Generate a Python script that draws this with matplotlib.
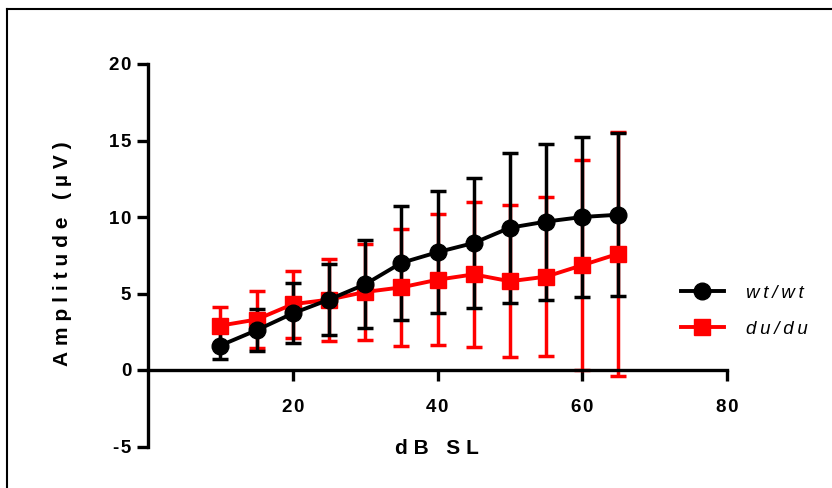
import matplotlib
matplotlib.use('Agg')
import matplotlib.pyplot as plt
from matplotlib.lines import Line2D

plt.rcParams['font.family'] = ['Liberation Sans', 'DejaVu Sans']

# data (mean +/- SD)
db_sl = [10, 15, 20, 25, 30, 35, 40, 45, 50, 55, 60, 65]
wt_mean = [1.6, 2.6, 3.7, 4.6, 5.6, 7.0, 7.7, 8.3, 9.3, 9.7, 10.0, 10.15]
wt_sd = [0.86, 1.38, 1.96, 2.3, 2.87, 3.72, 4.0, 4.28, 4.9, 5.1, 5.26, 5.33]
du_mean = [2.9, 3.3, 4.3, 4.6, 5.1, 5.4, 5.9, 6.25, 5.8, 6.1, 6.85, 7.6]
du_sd = [1.2, 1.88, 2.2, 2.68, 3.12, 3.8, 4.28, 4.74, 4.97, 5.2, 6.85, 7.96]

x_ticks = [20, 40, 60, 80]
y_ticks = [-5, 0, 5, 10, 15, 20]
labels = ['wt/wt', 'du/du']


def spaced(s, sp='\u2009'):
    return sp.join(list(s))


fig = plt.figure(figsize=(8.32, 4.88), dpi=100)
ax = fig.add_axes([148 / 832, 1 - 446.5 / 488, (727 - 148) / 832, (446.5 - 64) / 488])

du = ax.errorbar(db_sl, du_mean, yerr=du_sd, color='#ff0000', marker='s', markersize=11,
                 linewidth=2.8, elinewidth=2.5, capsize=5.6, capthick=2.5)
wt = ax.errorbar(db_sl, wt_mean, yerr=wt_sd, color='black', marker='o', markersize=12,
                 linewidth=2.8, elinewidth=2.5, capsize=5.6, capthick=2.5)

ax.set_xlim(0, 80)
ax.set_ylim(-5, 20)
ax.spines['top'].set_visible(False)
ax.spines['right'].set_visible(False)
ax.spines['bottom'].set_position(('data', 0))
ax.spines['left'].set_linewidth(2.4)
ax.spines['bottom'].set_linewidth(2.4)

ax.set_xticks(x_ticks)
ax.set_xticklabels([spaced(str(t), '\u200a') for t in x_ticks])
ax.set_yticks(y_ticks)
ax.set_yticklabels([spaced(str(t), '\u200a') for t in y_ticks])
ax.tick_params(axis='both', length=8, width=2.4, labelsize=13.5)
ax.tick_params(axis='x', pad=13)
ax.tick_params(axis='y', pad=4)
for t in ax.get_xticklabels() + ax.get_yticklabels():
    t.set_fontweight('bold')

fig.text(437 / 832, 1 - 449 / 488, spaced('dB SL', '\u2009\u200a'), ha='center', va='center',
         fontsize=15, fontweight='bold')
fig.text(63 / 832, 1 - 254 / 488, spaced('Amplitude (µV)', '\u2009\u200a'), ha='center',
         va='center', rotation=90, fontsize=15, fontweight='bold')

leg = ax.legend([wt[0], du[0]], [spaced(l) for l in labels], loc='center left',
                bbox_to_anchor=(664 / 832, 1 - 311 / 488), bbox_transform=fig.transFigure,
                frameon=False, handlelength=2.3, handletextpad=1.2, labelspacing=1.0,
                prop={'style': 'italic', 'size': 13.5})

# partial frame round the picture
fig.add_artist(Line2D([7 / 832, 7 / 832], [0, 1 - 9 / 488], color='black', linewidth=1.5))
fig.add_artist(Line2D([7 / 832, 1], [1 - 9 / 488, 1 - 9 / 488], color='black', linewidth=1.5))

fig.savefig('out.png', dpi=100)
